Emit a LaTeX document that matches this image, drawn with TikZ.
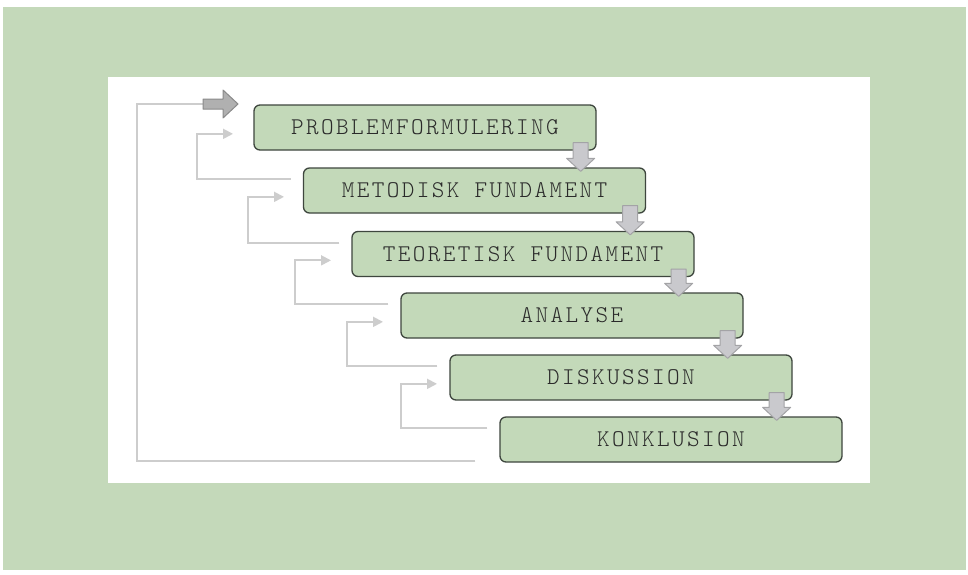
\documentclass[tikz,border=0pt]{standalone}
\usepackage{fontspec}
\newfontfamily\stagefont[LetterSpace=10]{lmmonolt10-regular.otf}
\usetikzlibrary{calc,arrows.meta}

\definecolor{pagegreen}{HTML}{C4D9BA}
\definecolor{stagefill}{HTML}{C3D9B9}
\definecolor{stageline}{HTML}{3E463E}
\definecolor{stagetext}{HTML}{2A2A2A}
\definecolor{loopgray}{HTML}{CDCDCD}
\definecolor{downfill}{HTML}{C9C9CD}
\definecolor{downline}{HTML}{A3A3A6}
\definecolor{startfill}{HTML}{B0B0B0}
\definecolor{startline}{HTML}{8A8A8A}

\tikzset{
  stage/.style={draw=stageline, line width=1.3pt, fill=stagefill,
    rounded corners=6pt, minimum width=342pt, minimum height=45pt,
    inner sep=0pt, font=\stagefont\fontsize{24}{24}\selectfont,
    text=stagetext},
  feedback/.style={draw=loopgray, line width=1.8pt,
    -{Triangle[length=10pt,width=10pt]}},
  loopline/.style={draw=loopgray, line width=1.8pt},
  downarrow/.style={fill=downfill, draw=downline, line width=1pt,
    line join=round},
  startarrow/.style={fill=startfill, draw=startline, line width=1pt,
    line join=round}
}

\begin{document}
\begin{tikzpicture}[x=1pt, y=-1pt]
  \useasboundingbox (0,0) rectangle (968,574);
  % page and panel
  \fill[white] (0,0) rectangle (968,574);
  \fill[pagegreen] (3,7) rectangle (966,570);
  \fill[white] (108,77) rectangle (870,483);

  % the six stages
  \node[stage] (p1) at (425,127.5) {PROBLEMFORMULERING};
  \node[stage] (p2) at (474.5,190.5) {METODISK FUNDAMENT};
  \node[stage] (p3) at (523,254) {TEORETISK FUNDAMENT};
  \node[stage] (p4) at (572,315.5) {ANALYSE};
  \node[stage] (p5) at (621,377.5) {DISKUSSION};
  \node[stage] (p6) at (671,439.5) {KONKLUSION};

  % block arrows from each stage down to the next
  \foreach \a/\b in {p1/p2, p2/p3, p3/p4, p4/p5, p5/p6} {
    \coordinate (top) at ($(\a.south east)+(-16,-8)$);
    \coordinate (tip) at ($(\a.south east |- \b.north)+(-16,4)$);
    \draw[downarrow] ($(top)+(-7.5,0)$) -- ++(15,0) -- ($(tip)+(7.5,-13)$)
      -- ($(tip)+(14,-13)$) -- (tip) -- ($(tip)+(-14,-13)$)
      -- ($(tip)+(-7.5,-13)$) -- cycle;
  }

  % feedback lines from each stage back to the one before
  \foreach \k/\n/\vx in {1/2/197, 2/3/248, 3/4/295, 4/5/347, 5/6/401} {
    \coordinate (from\k) at ($(p\n.north west)+(-12,12)$);
    \coordinate (back\k) at ($(p\k.north west)+(0,29.5)$);
    \coordinate (col\k) at (\vx,0);
    \draw[feedback] (from\k) -| (col\k |- back\k) -- ++(36,0);
  }

  % long loop from the conclusion back to the start
  \coordinate (loopstart) at ($(p6.south west)+(-24,-2)$);
  \coordinate (loopcol) at (137,0);
  \coordinate (loopend) at (203,104);
  \draw[loopline] (loopstart) -| (loopcol |- loopend) -- (loopend);
  \draw[startarrow] (loopend) ++(0,-5) -- ++(20,0) -- ++(0,-9)
    -- ++(15,14) -- ++(-15,14) -- ++(0,-9) -- ++(-20,0) -- cycle;
\end{tikzpicture}
\end{document}
